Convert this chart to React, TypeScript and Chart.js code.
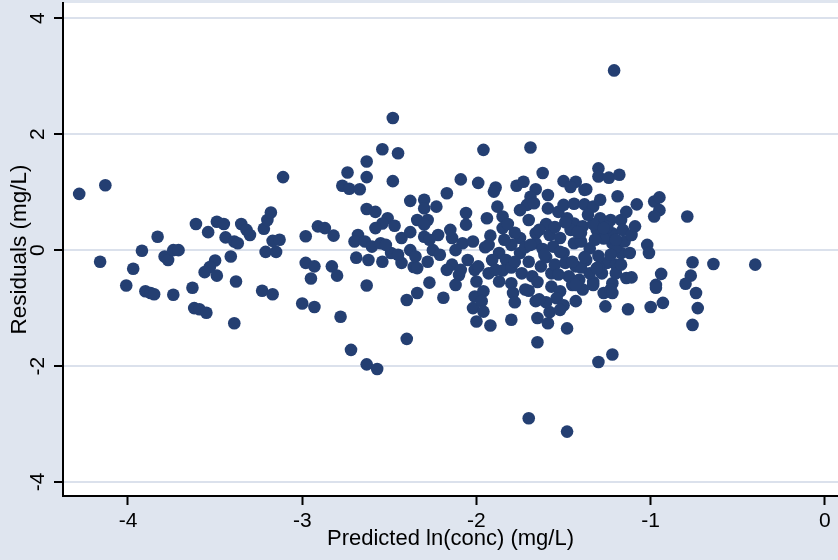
import React, { useEffect, useRef } from "react";
import { Chart, registerables } from "chart.js";

Chart.register(...registerables);

// Predicted ln(conc) values and residuals, grouped by region of the plot
const leftPredicted = [
  -4.28, -4.13, -4.16, -3.92, -3.97, -4.01, -3.83, -3.90, -3.87, -3.85,
  -3.79, -3.77, -3.74, -3.71, -3.74, -3.61, -3.54, -3.49, -3.45, -3.44,
  -3.50, -3.53, -3.56, -3.49, -3.63, -3.62, -3.59, -3.55, -3.41, -3.38,
  -3.39, -3.39, -3.37, -3.35, -3.32, -3.30, -3.22, -3.20, -3.18, -3.21,
  -3.15, -3.17, -3.13, -3.11, -3.23, -3.17,
];
const leftResiduals = [
  0.97, 1.12, -0.20, -0.01, -0.32, -0.61, 0.23, -0.71, -0.74, -0.76,
  -0.11, -0.17, 0.00, 0.00, -0.77, 0.45, 0.31, 0.49, 0.45, 0.22,
  -0.18, -0.29, -0.38, -0.44, -0.65, -1.00, -1.02, -1.08, -0.11, -0.54,
  -1.26, 0.15, 0.12, 0.45, 0.35, 0.26, 0.37, 0.52, 0.65, -0.03,
  -0.03, 0.16, 0.18, 1.26, -0.70, -0.76,
];

const midPredicted = [
  -2.98, -2.98, -2.95, -3.00, -2.93, -2.91, -2.87, -2.82, -2.93, -2.83,
  -2.80, -2.48, -2.54, -2.45, -2.63, -2.74, -2.63, -2.77, -2.73, -2.67,
  -2.48, -2.38, -2.30, -2.30, -2.23, -2.17, -2.09, -1.99, -1.96, -2.63,
  -2.58, -2.51, -2.54, -2.58, -2.47, -2.34, -2.28, -2.30, -2.43, -2.30,
  -2.22, -2.14, -2.06, -2.06, -2.08, -2.02, -2.68, -2.70, -2.64, -2.60,
  -2.55, -2.69, -2.62, -2.54, -2.49, -2.38, -2.35, -2.43, -2.36, -2.25,
  -2.28, -2.12, -2.05, -2.14, -2.17, -2.10, -2.12, -2.01, -2.00, -2.01,
  -2.02, -2.00, -2.27, -2.19, -2.34, -2.40, -2.63, -2.78, -2.40, -2.72,
  -2.63, -2.57,
];
const midResiduals = [
  0.24, -0.22, -0.49, -0.92, -0.98, 0.41, 0.38, 0.25, -0.28, -0.28,
  -0.44, 2.28, 1.74, 1.67, 1.53, 1.34, 1.26, 1.11, 1.06, 1.05,
  1.19, 0.85, 0.87, 0.72, 0.75, 0.98, 1.22, 1.16, 1.73, 0.71,
  0.66, 0.55, 0.46, 0.38, 0.42, 0.52, 0.52, 0.44, 0.21, 0.23,
  0.26, 0.21, 0.64, 0.44, 0.12, 0.15, 0.26, 0.15, 0.15, 0.06,
  0.12, -0.13, -0.17, -0.20, -0.05, 0.00, -0.11, -0.22, -0.29, 0.00,
  -0.20, 0.00, -0.17, -0.25, -0.34, -0.43, -0.60, -0.34, -0.54, -0.80,
  -1.00, -1.23, -0.56, -0.82, -0.74, -0.86, -0.61, -1.15, -1.53, -1.72,
  -1.97, -2.05,
];

const corePredicted = [
  -1.69, -1.62, -1.89, -1.90, -1.77, -1.73, -1.66, -1.69, -1.71, -1.67,
  -1.88, -1.94, -1.85, -1.85, -1.70, -1.66, -1.66, -1.75, -1.80, -1.75,
  -1.87, -1.91, -1.99, -1.83, -1.74, -1.68, -1.63, -1.57, -1.87, -1.80,
  -1.79, -1.78, -1.96, -1.97, -1.96, -1.92, -1.80, -1.66, -1.65, -1.58,
  -1.59, -1.65, -1.48, -1.30, -1.22, -1.59, -1.53, -1.50, -1.43, -1.46,
  -1.37, -1.30, -1.30, -1.24, -1.18, -1.19, -1.50, -1.44, -1.38, -1.33,
  -1.44, -1.39, -1.46, -1.29, -1.23, -1.17, -1.31, -1.22, -1.16, -1.58,
  -1.52, -1.56, -1.44, -1.40, -1.35, -1.22, -1.17, -1.49, -1.43, -1.37,
  -1.25, -1.20, -1.47, -1.41, -1.35, -1.28, -1.22, -1.57, -1.52, -1.39,
  -1.27, -1.43, -1.54, -1.26, -1.13, -1.14, -1.12,
];
const coreResiduals = [
  1.77, 1.33, 1.08, 1.01, 1.11, 1.18, 1.05, 0.92, 0.78, 0.81,
  0.75, 0.55, 0.58, 0.38, 0.52, 0.29, 0.12, 0.21, 0.09, -0.05,
  -0.05, -0.17, -0.28, -0.17, -0.40, -0.45, -0.28, -0.40, -0.54, -0.57,
  -0.74, -0.90, -0.71, -0.88, -1.06, -1.30, -1.20, -0.88, -1.17, -1.07,
  -1.26, -1.59, -1.35, -1.93, -1.80, 0.72, 0.66, 1.19, 1.18, 1.09,
  1.05, 1.41, 1.27, 1.25, 1.30, 0.93, 0.78, 0.80, 0.79, 0.75,
  0.46, 0.41, 0.35, 0.55, 0.52, 0.52, 0.35, 0.29, 0.35, 0.26,
  0.21, 0.06, 0.12, 0.15, 0.03, 0.12, -0.05, -0.22, -0.28, -0.17,
  -0.22, -0.25, -0.45, -0.51, -0.40, -0.40, -0.57, -0.63, -0.71, -0.68,
  -0.74, -0.88, -0.83, -0.97, -1.02, -0.48, -0.05,
];

const densePredicted = [
  -1.62, -1.60, -1.55, -1.50, -1.45, -1.33, -1.30, -1.27, -1.25, -1.20,
  -1.33, -1.40, -1.60, -1.55, -1.48, -1.65, -1.70, -1.72, -1.78, -1.82,
  -1.92, -1.95, -1.93, -1.85, -1.80, -1.70, -1.60, -1.50, -1.40, -1.30,
  -1.20, -1.15, -1.49, -1.42, -1.36, -1.32, -1.27, -1.20, -1.14, -1.11,
  -1.52, -1.45, -1.38, -1.31, -1.23, -1.17, -1.53, -1.43, -1.33, -1.23,
  -1.64, -1.61, -1.69, -1.78, -1.84, -1.89, -1.93, -1.72, -1.64, -1.52,
  -2.15, -2.21, -2.27, -2.34, -2.09, -2.38, -2.45, -2.52, -1.29, -1.38,
  -1.59, -1.75,
];
const denseResiduals = [
  0.02, -0.12, -0.25, -0.05, -0.60, -0.55, -0.10, 0.20, 0.40, 0.05,
  0.45, 0.30, 0.45, 0.40, 0.55, -0.55, -0.20, 0.05, 0.30, 0.45,
  0.25, 0.05, -0.40, -0.35, -0.30, -0.70, -0.90, -0.95, -0.30, -0.30,
  -0.40, 0.15, 0.48, 0.31, 0.61, 0.18, 0.38, 0.18, 0.66, 0.26,
  -0.03, -0.20, -0.12, -0.31, -0.08, -0.25, -0.42, -0.60, -0.60, -0.68,
  0.35, -0.08, 0.09, -0.20, 0.18, -0.34, 0.09, -0.68, -0.85, -1.03,
  0.35, -0.08, 0.18, -0.31, -0.34, 0.31, -0.08, 0.09, 0.87, 1.04,
  0.95, 0.69,
];

const rightPredicted = [
  -1.08, -0.98, -0.95, -0.95, -0.98, -0.79, -1.09, -1.02, -1.01, -0.76,
  -0.64, -0.40, -0.77, -0.80, -0.94, -1.11, -0.97, -0.97, -0.74, -0.73,
  -0.93, -1.00, -0.76, -1.22, -1.21, -1.70, -1.48,
];
const rightResiduals = [
  0.79, 0.84, 0.91, 0.69, 0.58, 0.58, 0.41, 0.09, -0.05, -0.21,
  -0.24, -0.25, -0.44, -0.58, -0.41, -0.47, -0.60, -0.65, -0.74, -1.00,
  -0.91, -0.98, -1.29, -0.74, 3.10, -2.90, -3.13,
];

const predicted = [...leftPredicted, ...midPredicted, ...corePredicted, ...densePredicted, ...rightPredicted];
const residuals = [...leftResiduals, ...midResiduals, ...coreResiduals, ...denseResiduals, ...rightResiduals];

const xTicks = [-4, -3, -2, -1, 0];
const yTicks = [-4, -2, 0, 2, 4];
const xTitle = "Predicted ln(conc) (mg/L)";
const yTitle = "Residuals (mg/L)";

const FONT = "'Liberation Sans', Arial, Helvetica, sans-serif";
const OUTER_BG = "#dfe5ef";
const GRID = "#dbe1ec";
const MARKER = "#243f72";

export default function App() {
  const ref = useRef<HTMLCanvasElement | null>(null);

  useEffect(() => {
    if (!ref.current) return;
    const bgPlugin = {
      id: "bgPlugin",
      beforeDraw(chart: any) {
        const { ctx, chartArea: a, width, height } = chart;
        ctx.save();
        ctx.fillStyle = OUTER_BG;
        ctx.fillRect(0, 0, width, height);
        ctx.fillStyle = "#ffffff";
        ctx.fillRect(a.left, a.top, a.right - a.left, a.bottom - a.top);
        ctx.restore();
      },
    };

    const chart = new Chart(ref.current, {
      type: "scatter",
      data: {
        datasets: [
          {
            data: predicted.map((x, i) => ({ x, y: residuals[i] })),
            backgroundColor: MARKER,
            borderColor: MARKER,
            borderWidth: 0,
            pointRadius: 6.3,
            pointHoverRadius: 6.3,
          },
        ],
      },
      options: {
        responsive: false,
        animation: false,
        devicePixelRatio: 1,
        layout: { autoPadding: false, padding: { top: 3, left: 0, right: 0, bottom: 0 } },
        plugins: {
          legend: { display: false },
          tooltip: { enabled: false },
        },
        scales: {
          x: {
            type: "linear",
            min: -4.373,
            max: 0.075,
            afterBuildTicks: (s: any) => {
              s.ticks = xTicks.map((v) => ({ value: v }));
            },
            afterFit: (s: any) => {
              s.height = 64;
              s.paddingLeft = 0;
              s.paddingRight = 0;
            },
            grid: {
              display: true,
              drawOnChartArea: false,
              drawTicks: true,
              tickLength: 9,
              tickColor: "#000",
              tickWidth: 2,
            },
            border: { display: true, color: "#000", width: 2 },
            ticks: {
              color: "#000",
              font: { family: FONT, size: 21 },
              padding: 4,
              minRotation: 0,
              maxRotation: 0,
              autoSkip: false,
              callback: (v: any) => String(v),
            },
            title: {
              display: true,
              text: xTitle,
              color: "#000",
              font: { family: FONT, size: 22 },
              padding: { top: 0, bottom: 8 },
            },
          },
          y: {
            type: "linear",
            min: -4.241,
            max: 4.263,
            afterBuildTicks: (s: any) => {
              s.ticks = yTicks.map((v) => ({ value: v }));
            },
            afterFit: (s: any) => {
              s.width = 63;
              s.paddingTop = 0;
              s.paddingBottom = 0;
            },
            grid: {
              display: true,
              color: GRID,
              lineWidth: 2,
              drawTicks: true,
              tickLength: 9,
              tickColor: "#000",
              tickWidth: 2,
            },
            border: { display: true, color: "#000", width: 2 },
            ticks: {
              color: "#000",
              font: { family: FONT, size: 21 },
              padding: 6,
              minRotation: 90,
              maxRotation: 90,
              crossAlign: "center",
              autoSkip: false,
              callback: (v: any) => String(v),
            },
            title: {
              display: true,
              text: yTitle,
              color: "#000",
              font: { family: FONT, size: 22.5 },
              padding: { top: 6, bottom: 0 },
            },
          },
        },
      },
      plugins: [bgPlugin],
    } as any);

    return () => chart.destroy();
  }, []);

  return (
    <div
      style={{
        position: "fixed",
        left: 0,
        top: 0,
        width: 838,
        height: 560,
        background: OUTER_BG,
      }}
    >
      <canvas ref={ref} width={838} height={560} style={{ display: "block" }} />
    </div>
  );
}
